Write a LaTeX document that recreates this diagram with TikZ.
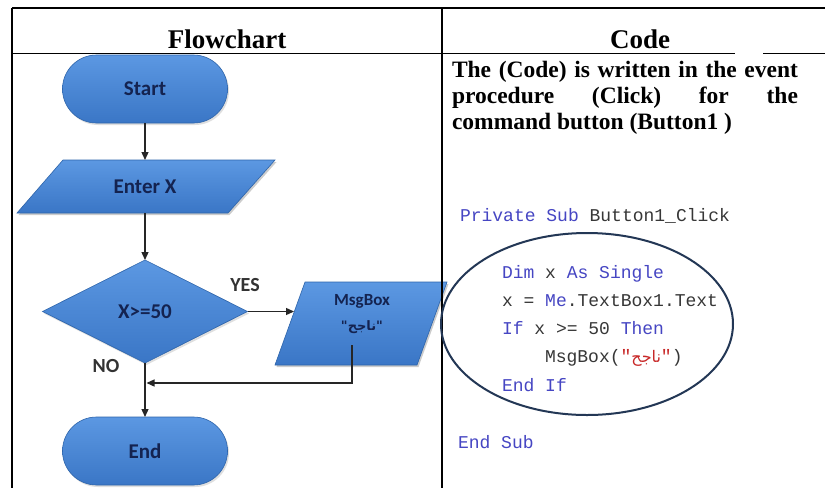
\documentclass[tikz,border=0pt]{standalone}
\usepackage{fontspec}
\setmainfont{Liberation Serif}
\setmonofont{Liberation Mono}
\newfontfamily\calfont{Carlito}
\newfontfamily\arabicfont[Script=Arabic]{DejaVu Sans}
\TeXXeTstate=1
\usetikzlibrary{shapes.geometric,shapes.misc,arrows.meta,shadows}
\definecolor{shapetop}{RGB}{92,152,226}
\definecolor{shapebot}{RGB}{58,118,198}
\definecolor{shapeline}{RGB}{45,100,170}
\definecolor{navy}{RGB}{20,35,80}
\definecolor{kw}{RGB}{70,70,195}
\definecolor{codegray}{RGB}{55,55,55}
\definecolor{arred}{RGB}{200,40,40}
\definecolor{ellline}{RGB}{35,55,85}
\begin{document}
\begin{tikzpicture}[x=1pt,y=-1pt,
  every node/.style={inner sep=0pt, outer sep=0pt},
  conn/.style={line width=1.3pt, draw=black!85},
  arr/.style={conn, -{Triangle[length=8pt,width=7pt]}},
  blueshape/.style={top color=shapetop, bottom color=shapebot, draw=shapeline, line width=0.6pt},
  shadowed/.style={drop shadow={opacity=0.25,shadow xshift=1.5pt,shadow yshift=-2pt}},
  terminal/.style={rounded rectangle, blueshape, shadowed, minimum width=165pt, minimum height=68pt},
  decision/.style={diamond, blueshape, shadowed, minimum width=205pt, minimum height=103pt},
  lbl/.style={font=\calfont\bfseries\fontsize{21}{24}\selectfont, text=navy},
  yesno/.style={font=\calfont\bfseries\fontsize{20}{24}\selectfont, text=black!80},
  tbl/.style={line width=1.5pt, draw=black},
  code/.style={anchor=base west, font=\ttfamily\fontsize{18}{20}\selectfont, text=codegray},
  head/.style={anchor=base, font=\bfseries\fontsize{27}{30}\selectfont},
]
\fill[white] (0,0) rectangle (825,488);
\useasboundingbox (0,0) rectangle (825,488);

% table lines
\draw[tbl] (12,8) -- (825,8);
\draw[tbl] (12,8) -- (12,488);
\draw[tbl] (12,53.5) -- (735,53.5);
\draw[tbl] (763,53.5) -- (825,53.5);

% headers
\node[head] (hflow) at (227,48) {Flowchart};
\node[head] (hcode) at (640,48) {Code};

% description
\node[anchor=north west, text width=346pt, align=justify,
      font=\bfseries\fontsize{23.5}{26}\selectfont] (desc) at (452,61)
  {The (Code) is written in the event\linebreak procedure (Click) for the\linebreak command button (Button1 )};

% flowchart shapes
\node[terminal, lbl] (start) at (145,89) {Start};

\fill[black, opacity=0.2] (64.5,162) -- (276.5,162) -- (229.5,215) -- (18.5,215) -- cycle;
\path[blueshape] (63,160) -- (275,160) -- (228,213) -- (17,213) -- cycle;
\node[lbl, minimum height=53pt] (enter) at (145,186.5) {Enter X};

\node[decision, lbl] (dec) at (145,311.5) {X>=50};

\fill[black, opacity=0.2] (306.5,284) -- (448.5,284) -- (418.5,367) -- (276.5,367) -- cycle;
\path[blueshape] (305,282) -- (447,282) -- (417,365) -- (275,365) -- cycle;
\node[font=\calfont\bfseries\fontsize{17}{20}\selectfont, text=navy] (msg) at (362,301) {MsgBox};
\node[font=\arabicfont\bfseries\fontsize{13}{16}\selectfont, text=navy] (msgtxt) at (362,327) {"\beginR ناجح\endR"};

\node[terminal, lbl] (end) at (145,451) {End};

\node[yesno] (yes) at (245,285) {YES};
\node[yesno] (no) at (106,366) {NO};

% connectors
\coordinate (msgin) at (294,311.5);
\coordinate (msgout) at (352,345);
\coordinate (merge) at (146.5,383);
\draw[arr] (start.south) -- (enter.north);
\draw[arr] (enter.south) -- (dec.north);
\draw[arr] (dec.east) -- (msgin);
\draw[arr] (dec.south) -- (end.north);
\draw[arr] (msgout) -- (msgout |- merge) -- (merge);

% divider
\draw[tbl] (442,8) -- (442,488);

% code
\node[code] (l1) at (460,221) {\textcolor{kw}{Private Sub} Button1\_Click};
\node[code] (l2) at (502,278) {\textcolor{kw}{Dim} x \textcolor{kw}{As Single}};
\node[code] (l3) at (502,306) {x = \textcolor{kw}{Me}.TextBox1.Text};
\node[code] (l4) at (502,334) {\textcolor{kw}{If} x >= 50 \textcolor{kw}{Then}};
\node[code] (l5) at (545,362) {MsgBox(\textcolor{arred}{"{\arabicfont\fontsize{16}{20}\selectfont\beginR ناجح\endR}"})};
\node[code] (l6) at (502,391) {\textcolor{kw}{End If}};
\node[code] (l7) at (458,448) {\textcolor{kw}{End Sub}};

% ellipse
\node[ellipse, draw=ellline, line width=2pt, minimum width=292pt, minimum height=182pt] (oval) at (587,324) {};
\end{tikzpicture}
\end{document}
